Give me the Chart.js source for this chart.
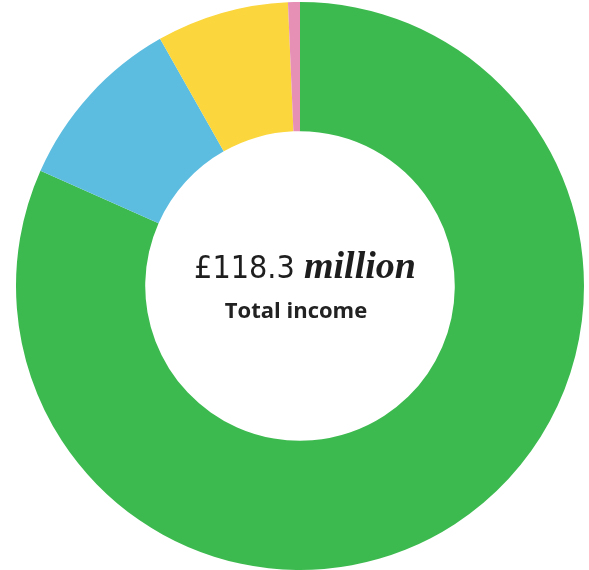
<!DOCTYPE html>
<html>
<head>
<meta charset="utf-8">
<script src="https://cdn.jsdelivr.net/npm/chart.js@4/dist/chart.umd.min.js"></script>
<style>
  html, body { margin: 0; padding: 0; background: #fff; }
</style>
</head>
<body>
<canvas id="myChart" width="589" height="570"></canvas>
<script>
  const labels = ['Green', 'Blue', 'Yellow', 'Pink'];
  const income = [96.6, 12.0, 8.9, 0.8];
  const colours = ['#3dba4f', '#5dbde0', '#fbd63c', '#e690b6'];
  const totalText = '£118.3';
  const unitText = 'million';
  const subText = 'Total income';

  // draws the total in the hole of the doughnut
  const centreText = {
    id: 'centreText',
    afterDraw(chart) {
      const ctx = chart.ctx;
      const arc = chart.getDatasetMeta(0).data[0];
      const x = arc.x, y = arc.y;
      const numFont = '32px "DejaVu Sans Condensed", "DejaVu Sans", sans-serif';
      const unitFont = 'italic bold 38px "Liberation Serif", serif';
      ctx.save();
      ctx.fillStyle = '#1e1e1e';
      ctx.textBaseline = 'alphabetic';
      ctx.textAlign = 'left';
      ctx.font = numFont;
      const w1 = ctx.measureText(totalText + ' ').width;
      ctx.font = unitFont;
      const w2 = ctx.measureText(unitText).width;
      const left = x + 5 - (w1 + w2) / 2;
      ctx.font = numFont;
      ctx.fillText(totalText, left, y - 8);
      ctx.font = unitFont;
      ctx.fillText(unitText, left + w1, y - 8);
      ctx.textAlign = 'center';
      ctx.font = 'bold 22px "Open Sans", sans-serif';
      ctx.fillStyle = '#222';
      ctx.fillText(subText, x - 4, y + 32);
      ctx.restore();
    }
  };

  const data = {
    labels: labels,
    datasets: [{
      data: income,
      backgroundColor: colours,
      borderWidth: 0
    }]
  };

  const config = {
    type: 'doughnut',
    data: data,
    options: {
      responsive: false,
      animation: false,
      cutout: '54.5%',
      layout: { padding: { left: 11, top: 2 } },
      plugins: {
        legend: { display: false },
        tooltip: { enabled: false }
      }
    },
    plugins: [centreText]
  };

  const myChart = new Chart(
    document.getElementById('myChart'),
    config
  );
</script>
</body>
</html>
